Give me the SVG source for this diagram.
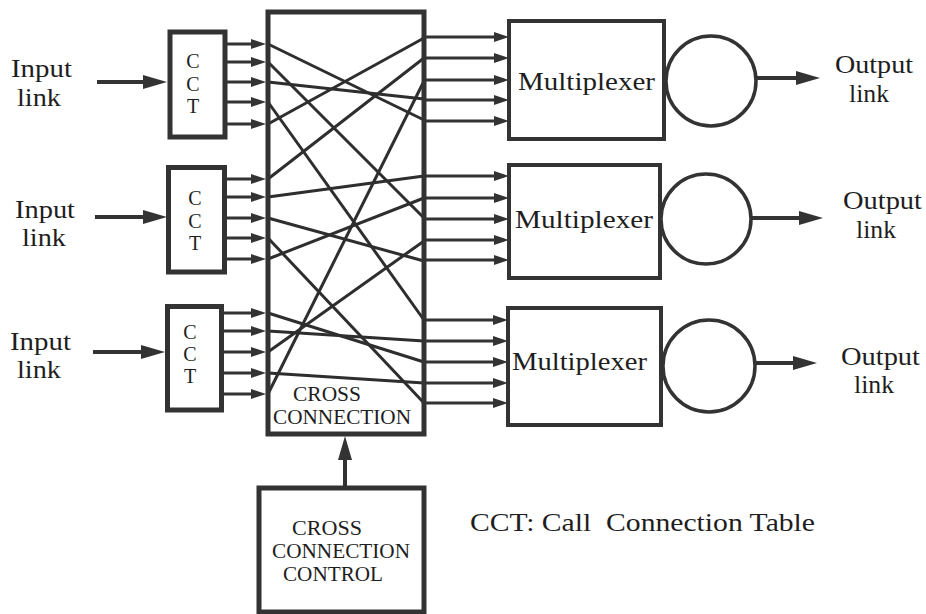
<svg xmlns="http://www.w3.org/2000/svg" width="926" height="614" viewBox="0 0 926 614">
  <defs>
    <marker id="head-lg" markerUnits="userSpaceOnUse" markerWidth="24" markerHeight="14" refX="14" refY="7" orient="auto">
      <path d="M0,0 L24,7 L0,14 Z" fill="#333"/>
    </marker>
    <marker id="head-sm" markerUnits="userSpaceOnUse" markerWidth="15" markerHeight="10" refX="9" refY="5" orient="auto">
      <path d="M0,0 L15,5 L0,10 Z" fill="#333"/>
    </marker>
  </defs>
  <style>
    .box{fill:none;stroke:#333;stroke-width:5}
    .mux{fill:none;stroke:#333;stroke-width:4}
    .ring{fill:none;stroke:#333;stroke-width:3.5}
    .big{stroke:#333;stroke-width:4;marker-end:url(#head-lg)}
    .small{stroke:#333;stroke-width:3;marker-end:url(#head-sm)}
    .wire{stroke:#2e2e2e;stroke-width:3;fill:none}
    text{font-family:"Liberation Serif","Times New Roman",serif;fill:#1e1e1e}
    .lbl{font-size:25px}
    .mx{font-size:26px}
    .cct{font-size:20px;text-anchor:middle}
    .caps{font-size:20px}
  </style>
  <rect width="926" height="614" fill="#fff"/>

  <!-- input links -->
  <g id="input-1">
    <text class="lbl" x="11" y="77" textLength="61" lengthAdjust="spacingAndGlyphs">Input</text>
    <text class="lbl" x="17" y="106" textLength="44" lengthAdjust="spacingAndGlyphs">link</text>
  </g>
  <g id="input-2">
    <text class="lbl" x="15" y="218" textLength="60" lengthAdjust="spacingAndGlyphs">Input</text>
    <text class="lbl" x="22" y="246" textLength="44" lengthAdjust="spacingAndGlyphs">link</text>
  </g>
  <g id="input-3">
    <text class="lbl" x="10" y="350" textLength="61" lengthAdjust="spacingAndGlyphs">Input</text>
    <text class="lbl" x="17" y="378" textLength="44" lengthAdjust="spacingAndGlyphs">link</text>
  </g>

  <!-- call connection tables -->
  <g id="cct-1">
    <rect class="box" x="170" y="32" width="55" height="105"/>
    <text class="cct" x="193" y="68">C</text>
    <text class="cct" x="193" y="91">C</text>
    <text class="cct" x="193" y="113">T</text>
  </g>
  <g id="cct-2">
    <rect class="box" x="168.5" y="167.5" width="56" height="104.5"/>
    <text class="cct" x="195" y="205">C</text>
    <text class="cct" x="195" y="228">C</text>
    <text class="cct" x="195" y="250">T</text>
  </g>
  <g id="cct-3">
    <rect class="box" x="167.5" y="306.5" width="54" height="103.5"/>
    <text class="cct" x="190" y="339">C</text>
    <text class="cct" x="190" y="361">C</text>
    <text class="cct" x="190" y="383">T</text>
  </g>

  <!-- connectors -->
  <g id="connectors">
    <!-- input links into the tables -->
    <line class="big" x1="97" y1="82" x2="157" y2="82"/>
    <line class="big" x1="95" y1="217" x2="157" y2="217"/>
    <line class="big" x1="93" y1="352" x2="155" y2="352"/>

    <!-- table outputs into the cross connection -->
    <line class="small" x1="227" y1="44" x2="260" y2="44"/>
    <line class="small" x1="227" y1="62" x2="260" y2="62"/>
    <line class="small" x1="227" y1="82" x2="260" y2="82"/>
    <line class="small" x1="227" y1="102" x2="260" y2="102"/>
    <line class="small" x1="227" y1="124" x2="260" y2="124"/>
    <line class="small" x1="227" y1="179" x2="260" y2="179"/>
    <line class="small" x1="227" y1="197" x2="260" y2="197"/>
    <line class="small" x1="227" y1="218" x2="260" y2="218"/>
    <line class="small" x1="227" y1="238" x2="260" y2="238"/>
    <line class="small" x1="227" y1="259" x2="260" y2="259"/>
    <line class="small" x1="224" y1="313" x2="260" y2="313"/>
    <line class="small" x1="224" y1="331" x2="260" y2="331"/>
    <line class="small" x1="224" y1="352" x2="260" y2="352"/>
    <line class="small" x1="224" y1="373" x2="260" y2="373"/>
    <line class="small" x1="224" y1="394" x2="260" y2="394"/>

    <!-- cross connection wiring -->
    <line class="wire" x1="268" y1="44" x2="424" y2="120"/>
    <line class="wire" x1="268" y1="62" x2="424" y2="218"/>
    <line class="wire" x1="268" y1="82" x2="424" y2="99"/>
    <line class="wire" x1="268" y1="102" x2="424" y2="320"/>
    <line class="wire" x1="268" y1="124" x2="424" y2="38"/>
    <line class="wire" x1="268" y1="179" x2="424" y2="58"/>
    <line class="wire" x1="268" y1="197" x2="424" y2="176"/>
    <line class="wire" x1="268" y1="218" x2="424" y2="261"/>
    <line class="wire" x1="268" y1="238" x2="424" y2="403"/>
    <line class="wire" x1="268" y1="259" x2="424" y2="198"/>
    <line class="wire" x1="268" y1="313" x2="424" y2="362"/>
    <line class="wire" x1="268" y1="331" x2="424" y2="341"/>
    <line class="wire" x1="268" y1="352" x2="424" y2="241"/>
    <line class="wire" x1="268" y1="373" x2="424" y2="383"/>
    <line class="wire" x1="268" y1="394" x2="424" y2="81"/>

    <!-- cross connection outputs into the multiplexers -->
    <line class="small" x1="426" y1="37" x2="503" y2="37"/>
    <line class="small" x1="426" y1="58" x2="503" y2="58"/>
    <line class="small" x1="426" y1="80" x2="503" y2="80"/>
    <line class="small" x1="426" y1="100" x2="503" y2="100"/>
    <line class="small" x1="426" y1="121" x2="503" y2="121"/>
    <line class="small" x1="426" y1="176" x2="503" y2="176"/>
    <line class="small" x1="426" y1="198" x2="503" y2="198"/>
    <line class="small" x1="426" y1="219" x2="503" y2="219"/>
    <line class="small" x1="426" y1="240" x2="503" y2="240"/>
    <line class="small" x1="426" y1="260" x2="503" y2="260"/>
    <line class="small" x1="426" y1="320" x2="502" y2="320"/>
    <line class="small" x1="426" y1="341" x2="502" y2="341"/>
    <line class="small" x1="426" y1="362" x2="502" y2="362"/>
    <line class="small" x1="426" y1="383" x2="502" y2="383"/>
    <line class="small" x1="426" y1="403" x2="502" y2="403"/>

    <!-- output links -->
    <line class="big" x1="757" y1="78" x2="810" y2="78"/>
    <line class="big" x1="751" y1="218" x2="813" y2="218"/>
    <line class="big" x1="756" y1="363" x2="807" y2="363"/>

    <!-- control into cross connection -->
    <line class="big" x1="345" y1="486" x2="345" y2="446"/>
  </g>

  <!-- cross connection block -->
  <g id="cross-connection">
    <rect class="box" x="268" y="12" width="156" height="422"/>
    <text class="caps" x="293" y="401" textLength="68" lengthAdjust="spacingAndGlyphs">CROSS</text>
    <text class="caps" x="273" y="424" textLength="138" lengthAdjust="spacingAndGlyphs">CONNECTION</text>
  </g>

  <!-- multiplexers with their output buffers -->
  <g id="mux-1">
    <rect class="mux" x="509" y="21" width="155" height="118"/>
    <text class="mx" x="518" y="90" textLength="137" lengthAdjust="spacingAndGlyphs">Multiplexer</text>
    <circle class="ring" cx="711" cy="81" r="45"/>
  </g>
  <g id="mux-2">
    <rect class="mux" x="509" y="165" width="151" height="113"/>
    <text class="mx" x="515" y="228" textLength="138" lengthAdjust="spacingAndGlyphs">Multiplexer</text>
    <circle class="ring" cx="706" cy="219" r="45"/>
  </g>
  <g id="mux-3">
    <rect class="mux" x="508" y="308" width="153" height="117"/>
    <text class="mx" x="512" y="370" textLength="135" lengthAdjust="spacingAndGlyphs">Multiplexer</text>
    <circle class="ring" cx="709" cy="366" r="46"/>
  </g>

  <!-- output links -->
  <g id="output-1">
    <text class="lbl" x="835" y="73" textLength="78" lengthAdjust="spacingAndGlyphs">Output</text>
    <text class="lbl" x="849" y="102" textLength="40" lengthAdjust="spacingAndGlyphs">link</text>
  </g>
  <g id="output-2">
    <text class="lbl" x="843" y="209" textLength="79" lengthAdjust="spacingAndGlyphs">Output</text>
    <text class="lbl" x="856" y="238" textLength="40" lengthAdjust="spacingAndGlyphs">link</text>
  </g>
  <g id="output-3">
    <text class="lbl" x="841" y="365" textLength="79" lengthAdjust="spacingAndGlyphs">Output</text>
    <text class="lbl" x="854" y="393" textLength="40" lengthAdjust="spacingAndGlyphs">link</text>
  </g>

  <!-- cross connection control -->
  <g id="cross-connection-control">
    <rect class="box" x="259" y="488" width="165" height="124"/>
    <text class="caps" x="292" y="535" textLength="70" lengthAdjust="spacingAndGlyphs">CROSS</text>
    <text class="caps" x="272" y="558" textLength="138" lengthAdjust="spacingAndGlyphs">CONNECTION</text>
    <text class="caps" x="283" y="581" textLength="100" lengthAdjust="spacingAndGlyphs">CONTROL</text>
  </g>

  <!-- legend -->
  <g id="legend">
    <text class="mx" x="470" y="531" textLength="345" lengthAdjust="spacingAndGlyphs" xml:space="preserve">CCT: Call  Connection Table</text>
  </g>
</svg>
